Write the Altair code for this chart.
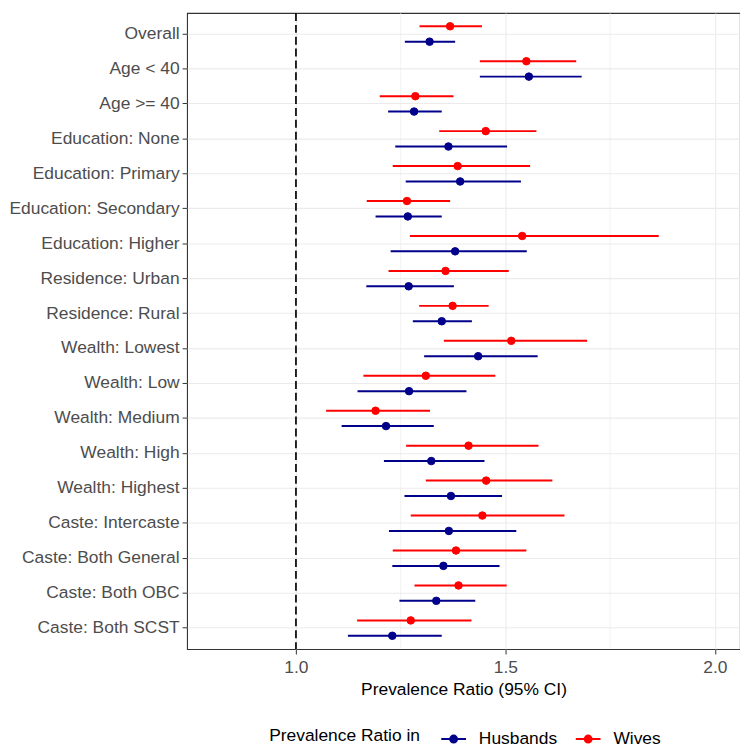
import altair as alt
import pandas as pd

categories = ["Overall", "Age < 40", "Age >= 40", "Education: None", "Education: Primary",
              "Education: Secondary", "Education: Higher", "Residence: Urban", "Residence: Rural",
              "Wealth: Lowest", "Wealth: Low", "Wealth: Medium", "Wealth: High", "Wealth: Highest",
              "Caste: Intercaste", "Caste: Both General", "Caste: Both OBC", "Caste: Both SCST"]

wives_pr = [1.368, 1.550, 1.285, 1.453, 1.386, 1.265, 1.540, 1.357, 1.374, 1.514, 1.310, 1.190, 1.412, 1.454, 1.445, 1.382, 1.388, 1.274]
wives_lo = [1.295, 1.439, 1.200, 1.342, 1.231, 1.169, 1.272, 1.221, 1.294, 1.353, 1.161, 1.072, 1.263, 1.310, 1.274, 1.231, 1.283, 1.146]
wives_hi = [1.444, 1.669, 1.376, 1.574, 1.559, 1.368, 1.866, 1.508, 1.460, 1.695, 1.476, 1.320, 1.579, 1.612, 1.641, 1.550, 1.503, 1.419]

husb_pr = [1.319, 1.556, 1.282, 1.364, 1.392, 1.267, 1.380, 1.269, 1.348, 1.435, 1.270, 1.215, 1.323, 1.370, 1.365, 1.352, 1.335, 1.230]
husb_lo = [1.260, 1.439, 1.220, 1.237, 1.262, 1.190, 1.226, 1.168, 1.279, 1.306, 1.147, 1.109, 1.210, 1.259, 1.222, 1.230, 1.247, 1.124]
husb_hi = [1.380, 1.682, 1.348, 1.504, 1.537, 1.348, 1.551, 1.377, 1.420, 1.577, 1.407, 1.329, 1.450, 1.492, 1.526, 1.486, 1.428, 1.348]

groups = ["Husbands", "Wives"]
group_colors = ["#00008B", "#FF0000"]
x_ticks = [1.0, 1.5, 2.0]
x_minor = [1.25, 1.75]
ref_line = [1.0]
x_domain = [0.74, 2.06]

rows = []
for i, c in enumerate(categories):
    rows.append({"cat": c, "group": "Wives", "pr": wives_pr[i], "lo": wives_lo[i], "hi": wives_hi[i]})
    rows.append({"cat": c, "group": "Husbands", "pr": husb_pr[i], "lo": husb_lo[i], "hi": husb_hi[i]})
df = pd.DataFrame(rows)

FONT = "Liberation Sans"
FS = 17.6

xscale = alt.Scale(domain=x_domain, nice=False, zero=False)
yscale = alt.Scale(domain=categories, paddingInner=0, paddingOuter=0.1)
offscale = alt.Scale(domain=["Wives", "Husbands"], paddingInner=0, paddingOuter=0.136)
color_scale = alt.Scale(domain=groups, range=group_colors)

legend_symbol = "M-1,0L1,0M0.28,0A0.28,0.28,0,1,1,-0.28,0A0.28,0.28,0,1,1,0.28,0Z"

x_axis = alt.Axis(values=x_ticks, format=".1f", title="Prevalence Ratio (95% CI)",
                  labelFontSize=FS, labelColor="#4D4D4D", tickColor="#333333", tickSize=5,
                  domain=False, grid=True, gridColor="#EBEBEB", gridWidth=1.1,
                  titleFontSize=FS, titleFontWeight="normal", titleColor="black",
                  titlePadding=4, labelPadding=5)
y_axis = alt.Axis(title=None, labelFontSize=FS, labelColor="#4D4D4D", tickColor="#333333",
                  tickSize=5, domain=False, grid=True, gridColor="#EBEBEB", gridWidth=1.1,
                  bandPosition=0.5, labelPadding=3)

legend = alt.Legend(orient="none", legendX=83, legendY=720, direction="horizontal", titleOrient="left",
                    title="Prevalence Ratio in", titleFontSize=FS, titleFontWeight="normal",
                    titleColor="black", labelFontSize=FS, labelColor="black",
                    symbolType=legend_symbol, symbolSize=625, symbolStrokeWidth=2,
                    columnPadding=14, labelOffset=12, titlePadding=20)

base = alt.Chart(df)

minor = alt.Chart(pd.DataFrame({"v": x_minor})).mark_rule(color="#EBEBEB", strokeWidth=0.6).encode(
    x=alt.X("v:Q", scale=xscale, axis=x_axis)
)
dash = alt.Chart(pd.DataFrame({"v": ref_line})).mark_rule(color="black", strokeWidth=1.7, strokeDash=[8, 4]).encode(
    x=alt.X("v:Q", scale=xscale, axis=x_axis)
)

ych = alt.Y("cat:N", scale=yscale, axis=y_axis, sort=categories)
offch = alt.YOffset("group:N", scale=offscale, sort=["Wives", "Husbands"])

bars = base.mark_rule(strokeWidth=2).encode(
    x=alt.X("lo:Q", scale=xscale, axis=x_axis),
    x2="hi:Q",
    y=ych,
    yOffset=offch,
    stroke=alt.Stroke("group:N", scale=color_scale, legend=legend),
)
points = base.mark_point(filled=True, size=58, opacity=1, strokeWidth=1).encode(
    x=alt.X("pr:Q", scale=xscale, axis=x_axis),
    y=ych,
    yOffset=offch,
    fill=alt.Fill("group:N", scale=color_scale, legend=legend),
    stroke=alt.Stroke("group:N", scale=color_scale, legend=legend),
)

chart = alt.layer(minor, dash, bars, points).properties(
    width=559, height=643, padding={"left": 0, "top": 0, "right": 0, "bottom": 0}
).configure(font=FONT).configure_view(stroke="#333333", strokeWidth=1.1)

chart.save("out.html", embed_options={"renderer": "svg", "actions": False})
